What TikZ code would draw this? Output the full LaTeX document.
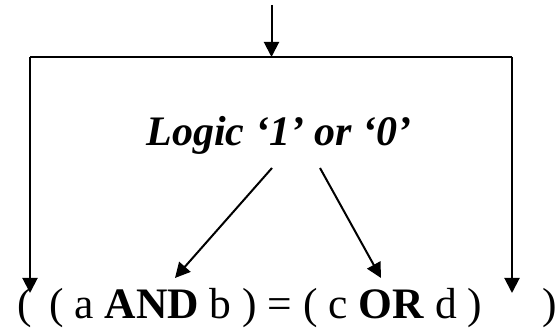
\documentclass[tikz,border=0pt]{standalone}
\usepackage{fontspec}
\setmainfont{Liberation Serif}
\usetikzlibrary{arrows.meta}
\begin{document}
\begin{tikzpicture}[x=1pt,y=1pt,
  conn/.style={line width=2pt,-{Triangle[length=15pt,width=15pt]}},
  line/.style={line width=2pt},
  txt/.style={inner sep=0pt,font=\fontsize{43.5}{50}\selectfont},
  logic/.style={inner sep=0pt,font=\fontsize{42}{50}\selectfont\bfseries\itshape}]
\useasboundingbox (0,0) rectangle (557,331);
% coordinates
\coordinate (in) at (271.5,326);
\coordinate (tm) at (271.5,274);
\coordinate (tl) at (30,274);
\coordinate (tr) at (512,274);
\coordinate (bl) at (30,38);
\coordinate (br) at (512,38);
\coordinate (andtip) at (175,53);
\coordinate (ortip) at (381,53);
\coordinate (ls) at (272,163);
\coordinate (rs) at (320,163);
% texts
\node[logic,anchor=base] (logic) at (279,185) {Logic ‘1’ or ‘0’};
\node[txt,anchor=base west] (lp) at (17,12) {(};
\node[txt,anchor=base west] (expr) at (49,12) {( a \textbf{AND} b ) = ( c \textbf{OR} d )};
\node[txt,anchor=base west] (rp) at (542,12) {)};
% connectors
\draw[conn] (in) -- (tm);
\draw[line] (tl) -- (tr);
\draw[conn] (tl) -- (bl);
\draw[conn] (tr) -- (br);
\draw[conn] (ls) -- (andtip);
\draw[conn] (rs) -- (ortip);
\end{tikzpicture}
\end{document}
